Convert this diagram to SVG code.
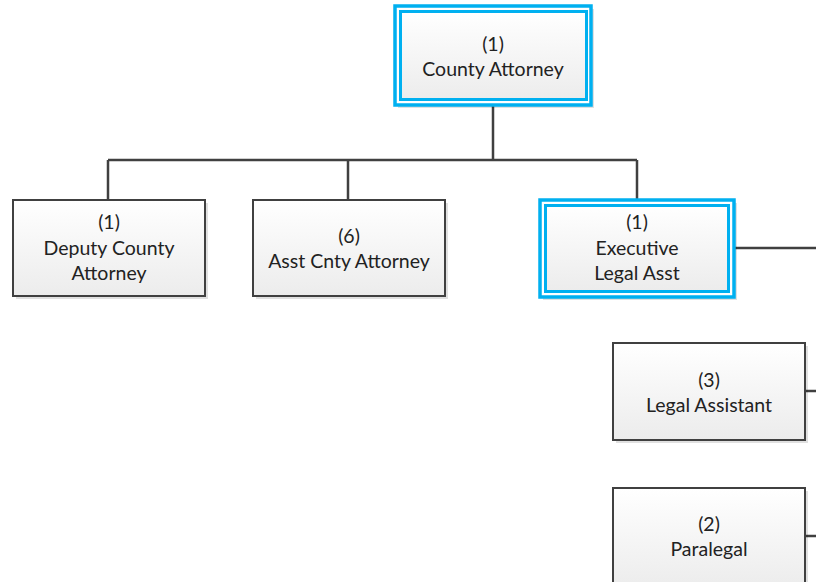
<svg xmlns="http://www.w3.org/2000/svg" width="816" height="582" viewBox="0 0 816 582">
<style>
.box{fill:url(#g);stroke:#404040;stroke-width:2}
.sel{fill:url(#g);stroke:#00b0f0;stroke-width:3}
.sh{fill:#000;opacity:0.12}
.t{font-family:Lato,"Open Sans","Liberation Sans",sans-serif;font-size:19.5px;fill:#222;text-anchor:middle}
.c{fill:none;stroke:#404040;stroke-width:2.5}
</style>
<defs>
<linearGradient id="g" x1="0" y1="0" x2="0" y2="1">
<stop offset="0" stop-color="#ffffff"/>
<stop offset="1" stop-color="#ececec"/>
</linearGradient>
</defs>
<rect width="816" height="582" fill="#fff"/>
<g id="connectors">
<path class="c" d="M493 105V160M108 160H637M108 160V200M348 160V200M637 160V200M734 248H816M805 391H816M805 536H816"/>
</g>
<g id="county-attorney">
<rect class="sh" x="398" y="9" width="196" height="99"/>
<rect x="395" y="6" width="196" height="99" fill="#fff" stroke="#00b0f0" stroke-width="3.5"/>
<rect class="sel" x="400.5" y="11.5" width="186" height="88"/>
<text class="t" x="493" y="51">(1)</text>
<text class="t" x="493" y="76">County Attorney</text>
</g>
<g id="deputy">
<rect class="sh" x="16" y="203" width="192" height="96"/>
<rect class="box" x="13" y="200" width="192" height="96"/>
<text class="t" x="109" y="229">(1)</text>
<text class="t" x="109" y="255">Deputy County</text>
<text class="t" x="109" y="280">Attorney</text>
</g>
<g id="asst">
<rect class="sh" x="256" y="203" width="192" height="96"/>
<rect class="box" x="253" y="200" width="192" height="96"/>
<text class="t" x="349" y="243">(6)</text>
<text class="t" x="349" y="268">Asst Cnty Attorney</text>
</g>
<g id="executive">
<rect class="sh" x="543" y="203" width="194" height="97"/>
<rect x="540" y="200" width="194" height="97" fill="#fff" stroke="#00b0f0" stroke-width="3.5"/>
<rect class="sel" x="545.5" y="205.5" width="183" height="86"/>
<text class="t" x="637" y="229">(1)</text>
<text class="t" x="637" y="255">Executive</text>
<text class="t" x="637" y="280">Legal Asst</text>
</g>
<g id="legal-assistant">
<rect class="sh" x="616" y="346" width="192" height="97"/>
<rect class="box" x="613" y="343" width="192" height="97"/>
<text class="t" x="709" y="387">(3)</text>
<text class="t" x="709" y="412">Legal Assistant</text>
</g>
<g id="paralegal">
<rect class="sh" x="616" y="491" width="192" height="100"/>
<rect class="box" x="613" y="488" width="192" height="100"/>
<text class="t" x="709" y="531">(2)</text>
<text class="t" x="709" y="556">Paralegal</text>
</g>
</svg>
